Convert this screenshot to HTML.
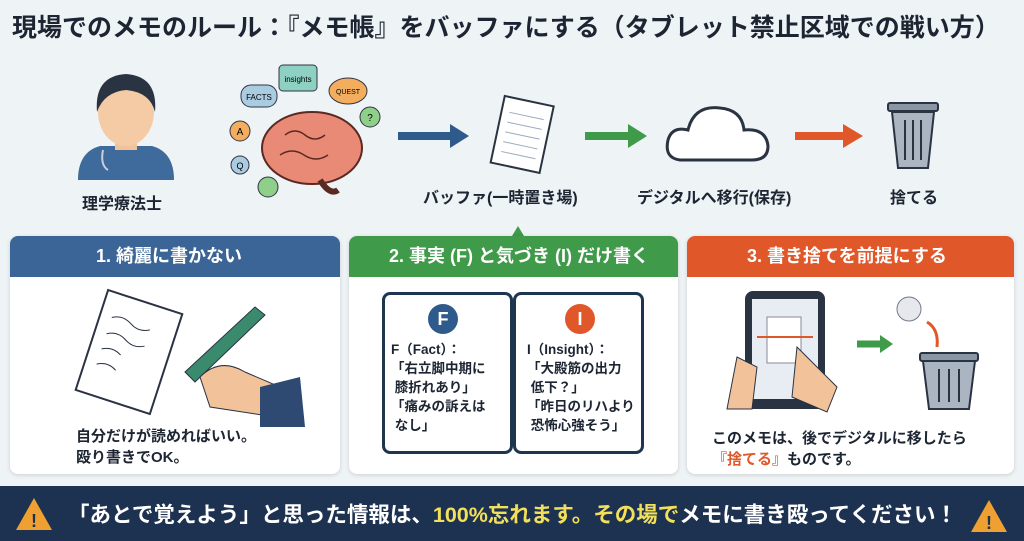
<!DOCTYPE html>
<html><head><meta charset="utf-8"><style>
*{margin:0;padding:0;box-sizing:border-box}
body{width:1024px;height:541px;overflow:hidden;background:#eef3f6;font-family:"Liberation Sans","Noto Sans CJK JP",sans-serif;position:relative;color:#1d2533}
.a{position:absolute}
.t{font-weight:bold}
.panel{position:absolute;top:236px;height:238px;background:#fff;border-radius:8px;box-shadow:0 1px 4px rgba(0,0,0,.15);overflow:hidden}
.hd{height:41px;color:#fff;font-weight:bold;font-size:18px;line-height:41px}
</style></head><body>
<div class="a t" style="left:12px;top:8px;font-size:25px;white-space:nowrap">現場でのメモのルール：『メモ帳』をバッファにする（タブレット禁止区域での戦い方）</div>

<svg class="a" style="left:0;top:0" width="1024" height="236">
<path d="M78 180 Q78 152 100 146 L152 146 Q174 152 174 180 Z" fill="#3e6a9c"/>
<rect x="115" y="126" width="22" height="24" fill="#f2c29a"/>
<ellipse cx="126" cy="112" rx="28" ry="34" fill="#f5cba5"/>
<path d="M97 112 Q94 76 126 74 Q158 76 155 112 Q150 92 126 90 Q104 92 97 112Z" fill="#2a3342"/>
<path d="M103 150 Q100 165 108 170" stroke="#ccd" stroke-width="2" fill="none"/>
<ellipse cx="312" cy="148" rx="50" ry="36" fill="#e98a76" stroke="#5a2a22" stroke-width="2"/>
<path d="M285 135q10-8 20 0t20 0M280 155q12-8 24 0t24 0" stroke="#5a2a22" fill="none" stroke-width="1.5"/>
<path d="M320 180 Q330 196 338 190" stroke="#5a2a22" stroke-width="6" fill="none"/>
<rect x="241" y="85" width="36" height="22" rx="10" fill="#a9cce0" stroke="#334"/>
<text x="259" y="100" font-size="8" text-anchor="middle" font-family="Liberation Sans">FACTS</text>
<rect x="279" y="65" width="38" height="26" rx="4" fill="#8ed0c2" stroke="#334"/>
<text x="298" y="82" font-size="8" text-anchor="middle" font-family="Liberation Sans">insights</text>
<ellipse cx="348" cy="91" rx="19" ry="13" fill="#f2ae5e" stroke="#334"/>
<text x="348" y="94" font-size="7" text-anchor="middle" font-family="Liberation Sans">QUEST</text>
<circle cx="240" cy="131" r="10" fill="#f2ae5e" stroke="#334"/><text x="240" y="135" font-size="10" text-anchor="middle">A</text>
<circle cx="240" cy="165" r="9" fill="#a9cce0" stroke="#334"/><text x="240" y="169" font-size="9" text-anchor="middle">Q</text>
<circle cx="268" cy="187" r="10" fill="#8ecf8a" stroke="#334"/>
<circle cx="370" cy="117" r="10" fill="#8ecf8a" stroke="#334"/><text x="370" y="121" font-size="10" text-anchor="middle">?</text>
<path d="M398 136 H452" stroke="#2f5a8c" stroke-width="8"/><path d="M450 124 L469 136 L450 148Z" fill="#2f5a8c"/>
<path d="M585 136 H630" stroke="#3f9a4a" stroke-width="8"/><path d="M628 124 L647 136 L628 148Z" fill="#3f9a4a"/>
<path d="M795 136 H845" stroke="#e0572a" stroke-width="8"/><path d="M843 124 L863 136 L843 148Z" fill="#e0572a"/>
<g transform="rotate(12 520 135)"><rect x="497" y="100" width="50" height="68" fill="#fff" stroke="#2a3342" stroke-width="2"/>
<path d="M505 115H540M505 125H540M505 135H540M505 145H540M505 155H540" stroke="#9ab"/></g>
<path d="M680 160 Q664 158 668 140 Q672 126 688 130 Q694 105 720 108 Q742 110 744 130 Q766 128 768 146 Q768 160 752 160Z" fill="#fff" stroke="#2a3342" stroke-width="3"/>
<rect x="888" y="103" width="50" height="8" rx="2" fill="#8a96a3" stroke="#2a3342" stroke-width="2"/>
<path d="M892 112 L898 168 H928 L934 112Z" fill="#aab5c1" stroke="#2a3342" stroke-width="2"/>
<path d="M905 120V160M913 120V160M921 120V160" stroke="#2a3342" stroke-width="2"/>
<path d="M512 236 L518 226 L524 236Z" fill="#3f9a4a"/>
</svg>
<div class="a t" style="left:82px;top:190px;font-size:16px">理学療法士</div>
<div class="a t" style="left:423px;top:184px;font-size:16px">バッファ(一時置き場)</div>
<div class="a t" style="left:637px;top:184px;font-size:16px">デジタルへ移行(保存)</div>
<div class="a t" style="left:890px;top:184px;font-size:16px">捨てる</div>

<div class="panel" style="left:10px;width:330px">
<div class="hd" style="background:#3a6596;padding-left:86px">1. 綺麗に書かない</div>
<svg class="a" style="left:0;top:41px" width="330" height="150">
<g transform="rotate(18 110 80)"><rect x="78" y="20" width="78" height="105" fill="#fff" stroke="#2a3342" stroke-width="2"/>
<path d="M90 45q10-6 20 0t20 0M90 62q10-6 20 0t20 0M90 78q10-6 20 0M90 94q10-6 20 0" stroke="#2a3342" fill="none"/></g>
<path d="M175 95 L245 30 L255 38 L185 105Z" fill="#3a8a6e" stroke="#2a3342"/>
<path d="M190 100 Q210 80 235 95 L270 110 L265 140 L200 130Z" fill="#f2c29a" stroke="#2a3342"/>
<path d="M250 110 L290 100 L295 150 L250 150Z" fill="#2f4a72"/>
</svg>
<div class="a t" style="left:66px;top:190px;font-size:15px;line-height:21px">自分だけが読めればいい。<br>殴り書きでOK。</div>
</div>

<div class="panel" style="left:349px;width:329px">
<div class="hd" style="background:#3f9a4a;padding-left:40px">2. 事実 (F) と気づき (I) だけ書く</div>
<div class="a" style="left:33px;top:56px;width:131px;height:162px;border:3px solid #1e3550;border-radius:8px"></div>
<div class="a" style="left:164px;top:56px;width:131px;height:162px;border:3px solid #1e3550;border-radius:8px"></div>
<div class="a" style="left:79px;top:68px;width:30px;height:30px;border-radius:50%;background:#2f5a8c;color:#fff;text-align:center;line-height:30px;font-weight:bold;font-size:18px">F</div>
<div class="a" style="left:216px;top:68px;width:30px;height:30px;border-radius:50%;background:#e0572a;color:#fff;text-align:center;line-height:30px;font-weight:bold;font-size:18px">I</div>
<div class="a t" style="left:42px;top:104px;font-size:13.5px;line-height:19px">F（Fact）：<br>「右立脚中期に<br>&nbsp;膝折れあり」<br>「痛みの訴えは<br>&nbsp;なし」</div>
<div class="a t" style="left:178px;top:104px;font-size:13.5px;line-height:19px">I（Insight）：<br>「大殿筋の出力<br>&nbsp;低下？」<br>「昨日のリハより<br>&nbsp;恐怖心強そう」</div>
</div>

<div class="panel" style="left:687px;width:327px">
<div class="hd" style="background:#e0572a;padding-left:60px">3. 書き捨てを前提にする</div>
<svg class="a" style="left:0;top:41px" width="327" height="150">
<rect x="58" y="14" width="80" height="118" rx="8" fill="#2a3342"/>
<rect x="65" y="22" width="66" height="100" fill="#e7edf3"/>
<rect x="80" y="40" width="34" height="46" fill="#fff" stroke="#889"/>
<path d="M70 60H126" stroke="#e0572a" stroke-width="2"/>
<path d="M40 132 L50 80 L70 90 L65 132Z" fill="#f2c29a" stroke="#2a3342"/>
<path d="M110 70 L150 110 L140 135 L105 120Z" fill="#f2c29a" stroke="#2a3342"/>
<path d="M170 67H195" stroke="#3f9a4a" stroke-width="7"/><path d="M193 58L206 67L193 76Z" fill="#3f9a4a"/>
<circle cx="222" cy="32" r="12" fill="#e5e9ee" stroke="#778"/>
<path d="M240 45 Q252 52 250 70" stroke="#e0572a" stroke-width="3" fill="none"/>
<rect x="233" y="76" width="58" height="8" rx="2" fill="#8a96a3" stroke="#2a3342" stroke-width="2"/>
<path d="M236 84 L242 132 H282 L288 84Z" fill="#aab5c1" stroke="#2a3342" stroke-width="2"/>
<path d="M252 92V125M262 92V125M272 92V125" stroke="#2a3342" stroke-width="2"/>
</svg>
<div class="a t" style="left:25px;top:192px;font-size:15px;line-height:21px">このメモは、後でデジタルに移したら<br><span style="color:#e0572a">『捨てる』</span>ものです。</div>
</div>

<div class="a" style="left:0;top:486px;width:1024px;height:55px;background:#1d3150"></div>
<svg class="a" style="left:0;top:486px" width="1024" height="55">
<path d="M34 12 L52 44 H16Z" fill="#f0a030"/><text x="34" y="41" font-size="18" font-weight="bold" text-anchor="middle" fill="#1d3150">!</text>
<path d="M989 14 L1007 46 H971Z" fill="#f0a030"/><text x="989" y="43" font-size="18" font-weight="bold" text-anchor="middle" fill="#1d3150">!</text>
</svg>
<div class="a t" style="left:68px;top:498px;font-size:21.5px;color:#fff;white-space:nowrap">「あとで覚えよう」と思った情報は、<span style="color:#f3e05a">100%忘れます。その場で</span>メモに書き殴ってください！</div>
</body></html>
